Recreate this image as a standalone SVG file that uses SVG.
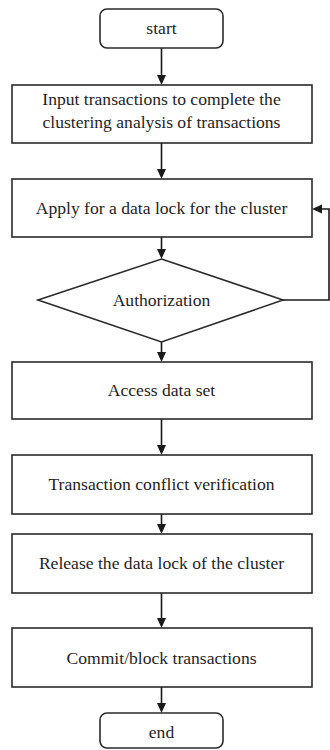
<svg xmlns="http://www.w3.org/2000/svg" width="330" height="750" viewBox="0 0 330 750">
  <style>
    .box { fill: #fff; stroke: #2a2a2a; stroke-width: 1.6; }
    .lbl { font-family: "Liberation Serif", "Times New Roman", serif; font-size: 17.6px; fill: #1e1e1e; text-anchor: middle; }
    .wire { fill: none; stroke: #1a1a1a; stroke-width: 1.6; }
    .head { fill: #1a1a1a; }
  </style>
  <rect width="330" height="750" fill="#fff"/>

  <g id="connectors">
    <line class="wire" x1="161.5" y1="48" x2="161.5" y2="76"/>
    <line class="wire" x1="161.5" y1="143" x2="161.5" y2="170"/>
    <line class="wire" x1="161.5" y1="237" x2="161.5" y2="250"/>
    <line class="wire" x1="161.5" y1="342" x2="161.5" y2="353"/>
    <line class="wire" x1="161.5" y1="419" x2="161.5" y2="446"/>
    <line class="wire" x1="161.5" y1="514" x2="161.5" y2="525"/>
    <line class="wire" x1="161.5" y1="593" x2="161.5" y2="619"/>
    <line class="wire" x1="161.5" y1="687" x2="161.5" y2="704"/>
    <polyline class="wire" points="283,300 329,300 329,209 321,209"/>
    <path class="head" d="M157,75 L166,75 L161.5,85 z"/>
    <path class="head" d="M157,169 L166,169 L161.5,179 z"/>
    <path class="head" d="M157,249 L166,249 L161.5,259 z"/>
    <path class="head" d="M157,352 L166,352 L161.5,362 z"/>
    <path class="head" d="M157,445 L166,445 L161.5,455 z"/>
    <path class="head" d="M157,524 L166,524 L161.5,534 z"/>
    <path class="head" d="M157,618 L166,618 L161.5,628 z"/>
    <path class="head" d="M157,703 L166,703 L161.5,713 z"/>
    <path class="head" d="M322,204.5 L322,213.5 L312,209 z"/>
  </g>

  <g id="start">
    <rect class="box" x="100" y="9" width="123" height="39" rx="7"/>
    <text class="lbl" x="161.5" y="34">start</text>
  </g>

  <g id="input">
    <rect class="box" x="12" y="85" width="300" height="58"/>
    <text class="lbl" x="161.5" y="105">Input transactions to complete the</text>
    <text class="lbl" x="161.5" y="128">clustering analysis of transactions</text>
  </g>

  <g id="apply-lock">
    <rect class="box" x="12" y="179" width="300" height="58"/>
    <text class="lbl" x="161.5" y="214">Apply for a data lock for the cluster</text>
  </g>

  <g id="authorization">
    <polygon class="box" points="161.5,259 283,300 161.5,342 38,300"/>
    <text class="lbl" x="161.5" y="306">Authorization</text>
  </g>

  <g id="access">
    <rect class="box" x="12" y="362" width="300" height="57"/>
    <text class="lbl" x="161.5" y="396">Access data set</text>
  </g>

  <g id="verify">
    <rect class="box" x="12" y="455" width="300" height="59"/>
    <text class="lbl" x="161.5" y="490">Transaction conflict verification</text>
  </g>

  <g id="release-lock">
    <rect class="box" x="12" y="534" width="300" height="59"/>
    <text class="lbl" x="161.5" y="569">Release the data lock of the cluster</text>
  </g>

  <g id="commit">
    <rect class="box" x="12" y="628" width="300" height="59"/>
    <text class="lbl" x="161.5" y="664">Commit/block transactions</text>
  </g>

  <g id="end">
    <rect class="box" x="100" y="713" width="123" height="35" rx="7"/>
    <text class="lbl" x="161.5" y="738">end</text>
  </g>
</svg>
